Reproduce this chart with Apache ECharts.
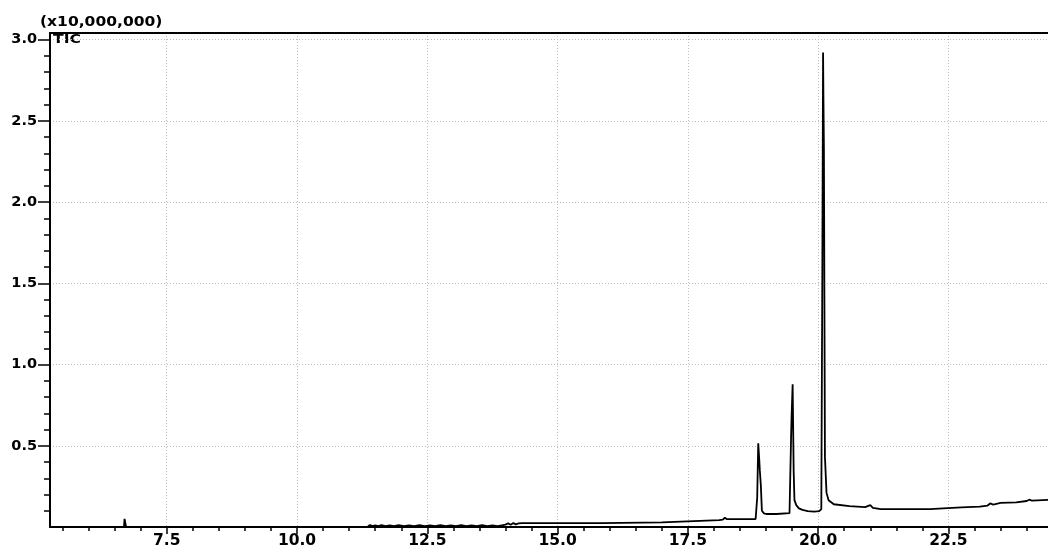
<!DOCTYPE html>
<html>
<head>
<meta charset="utf-8">
<style>
  html, body { margin: 0; padding: 0; background: #fff; }
  #chart { width: 1048px; height: 552px; }
</style>
<script src="https://cdn.jsdelivr.net/npm/echarts@6.0.0/dist/echarts.min.js"></script>
</head>
<body>
<div id="chart"></div>
<script>
// Retention time (min)
var times = [5.26, 6.68, 6.69, 6.71, 6.72, 11.35, 11.40, 11.45, 11.50, 11.56, 11.62, 11.70, 11.78, 11.86, 11.95,
  12.05, 12.15, 12.25, 12.35, 12.45, 12.55, 12.65, 12.75, 12.85, 12.95, 13.05, 13.15, 13.25, 13.35, 13.45,
  13.55, 13.65, 13.75, 13.85, 13.95, 14.00, 14.05, 14.10, 14.15, 14.20, 14.25, 14.32, 15.85, 15.88, 17.00,
  17.03, 18.10, 18.17, 18.21, 18.25, 18.80, 18.82, 18.83, 18.85, 18.87, 18.88, 18.90, 18.92, 18.96, 19.00,
  19.20, 19.45, 19.47, 19.48, 19.49, 19.51, 19.53, 19.545, 19.58, 19.63, 19.70, 19.80, 19.92, 20.02, 20.06,
  20.08, 20.094, 20.10, 20.11, 20.13, 20.16, 20.20, 20.30, 20.60, 20.90, 21.00, 21.05, 21.20, 22.15, 22.40,
  22.75, 23.10, 23.25, 23.30, 23.36, 23.50, 23.80, 24.00, 24.05, 24.10, 24.41];
// TIC intensity (x10,000,000)
var intensity = [0, 0, 0.05, 0.05, 0, 0, 0.012, 0.006, 0.010, 0.006, 0.011, 0.006, 0.010, 0.006, 0.011,
  0.006, 0.010, 0.006, 0.011, 0.006, 0.010, 0.006, 0.011, 0.006, 0.010, 0.006, 0.011, 0.006, 0.010, 0.006,
  0.011, 0.006, 0.010, 0.006, 0.011, 0.015, 0.022, 0.014, 0.024, 0.016, 0.022, 0.024, 0.024, 0.029, 0.029,
  0.041, 0.042, 0.045, 0.057, 0.048, 0.049, 0.05, 0.18, 0.515, 0.41, 0.35, 0.257, 0.10, 0.084, 0.080,
  0.080, 0.085, 0.09, 0.55, 0.68, 0.878, 0.34, 0.165, 0.135, 0.115, 0.105, 0.098, 0.095, 0.098, 0.11,
  1.6, 2.92, 2.67, 2.33, 0.43, 0.21, 0.165, 0.14, 0.128, 0.122, 0.135, 0.118, 0.110, 0.110, 0.115,
  0.121, 0.125, 0.132, 0.145, 0.138, 0.148, 0.152, 0.160, 0.168, 0.162, 0.167];

var xMajorTicks = [7.5, 10.0, 12.5, 15.0, 17.5, 20.0, 22.5];
var xMinorTicks = [5.5, 6.0, 6.5, 7.0, 7.5, 8.0, 8.5, 9.0, 9.5, 10.0, 10.5, 11.0, 11.5, 12.0, 12.5, 13.0,
  13.5, 14.0, 14.5, 15.0, 15.5, 16.0, 16.5, 17.0, 17.5, 18.0, 18.5, 19.0, 19.5, 20.0, 20.5, 21.0, 21.5,
  22.0, 22.5, 23.0, 23.5, 24.0];
var yMajorTicks = [0.5, 1.0, 1.5, 2.0, 2.5, 3.0];
var yMinorTicks = [0.1, 0.2, 0.3, 0.4, 0.5, 0.6, 0.7, 0.8, 0.9, 1.0, 1.1, 1.2, 1.3, 1.4, 1.5, 1.6, 1.7,
  1.8, 1.9, 2.0, 2.1, 2.2, 2.3, 2.4, 2.5, 2.6, 2.7, 2.8, 2.9, 3.0];

var X_MIN = 5.26, X_MAX = 24.41, Y_MIN = 0, Y_MAX = 3.04;
var FONT = '"DejaVu Sans", sans-serif';

var chart = echarts.init(document.getElementById('chart'), null, { renderer: 'canvas' });
var data = times.map(function (t, i) { return [t, intensity[i]]; });
var gridLine = { show: true, lineStyle: { color: '#bdbdbd', width: 1, type: [1, 2] } };

chart.setOption({
  animation: false,
  backgroundColor: '#fff',
  grid: { left: 50, right: 0, top: 33, bottom: 25, outerBoundsMode: 'none', containLabel: false },
  xAxis: [
    {
      type: 'value', min: X_MIN, max: X_MAX, position: 'bottom',
      axisLine: { show: true, onZero: false, lineStyle: { color: '#000', width: 2 } },
      axisTick: { show: true, customValues: xMajorTicks, length: 7, lineStyle: { color: '#000', width: 1.5 } },
      axisLabel: { show: true, customValues: xMajorTicks, margin: 6, color: '#000', fontFamily: FONT,
        fontWeight: 'bold', fontSize: 15.5, formatter: function (v) { return v.toFixed(1); } },
      splitLine: gridLine
    },
    {
      type: 'value', min: X_MIN, max: X_MAX, position: 'bottom',
      axisLine: { show: false, onZero: false },
      axisTick: { show: true, customValues: xMinorTicks, length: 4, lineStyle: { color: '#000', width: 1.5 } },
      axisLabel: { show: false },
      splitLine: { show: false }
    },
    {
      type: 'value', min: X_MIN, max: X_MAX, position: 'top',
      axisLine: { show: true, onZero: false, lineStyle: { color: '#000', width: 2 } },
      axisTick: { show: false }, axisLabel: { show: false }, splitLine: { show: false }
    }
  ],
  yAxis: [
    {
      type: 'value', min: Y_MIN, max: Y_MAX, position: 'left',
      axisLine: { show: true, onZero: false, lineStyle: { color: '#000', width: 2 } },
      axisTick: { show: true, customValues: yMajorTicks, length: 12, lineStyle: { color: '#000', width: 1.5 } },
      axisLabel: { show: true, customValues: yMajorTicks, margin: 13, color: '#000', fontFamily: FONT,
        fontWeight: 'bold', fontSize: 14.5, formatter: function (v) { return v.toFixed(1); } },
      splitLine: gridLine
    },
    {
      type: 'value', min: Y_MIN, max: Y_MAX, position: 'left',
      axisLine: { show: false, onZero: false },
      axisTick: { show: true, customValues: yMinorTicks, length: 6, lineStyle: { color: '#000', width: 1.5 } },
      axisLabel: { show: false },
      splitLine: { show: false }
    }
  ],
  graphic: [
    { type: 'text', x: 40, y: 22, scaleX: 1.15, silent: true,
      style: { text: '(x10,000,000)', fill: '#000', font: 'bold 13.5px ' + FONT, textAlign: 'left', textVerticalAlign: 'middle' } },
    { type: 'text', x: 53, y: 40, scaleX: 1.3, silent: true,
      style: { text: 'TIC', fill: '#000', font: 'bold 12px ' + FONT, textAlign: 'left', textVerticalAlign: 'middle' } }
  ],
  series: [{
    type: 'line', xAxisIndex: 0, yAxisIndex: 0, data: data,
    showSymbol: false, symbol: 'none', smooth: false, clip: true,
    lineStyle: { color: '#000', width: 1.8 },
    emphasis: { disabled: true }
  }]
});
</script>
</body>
</html>
